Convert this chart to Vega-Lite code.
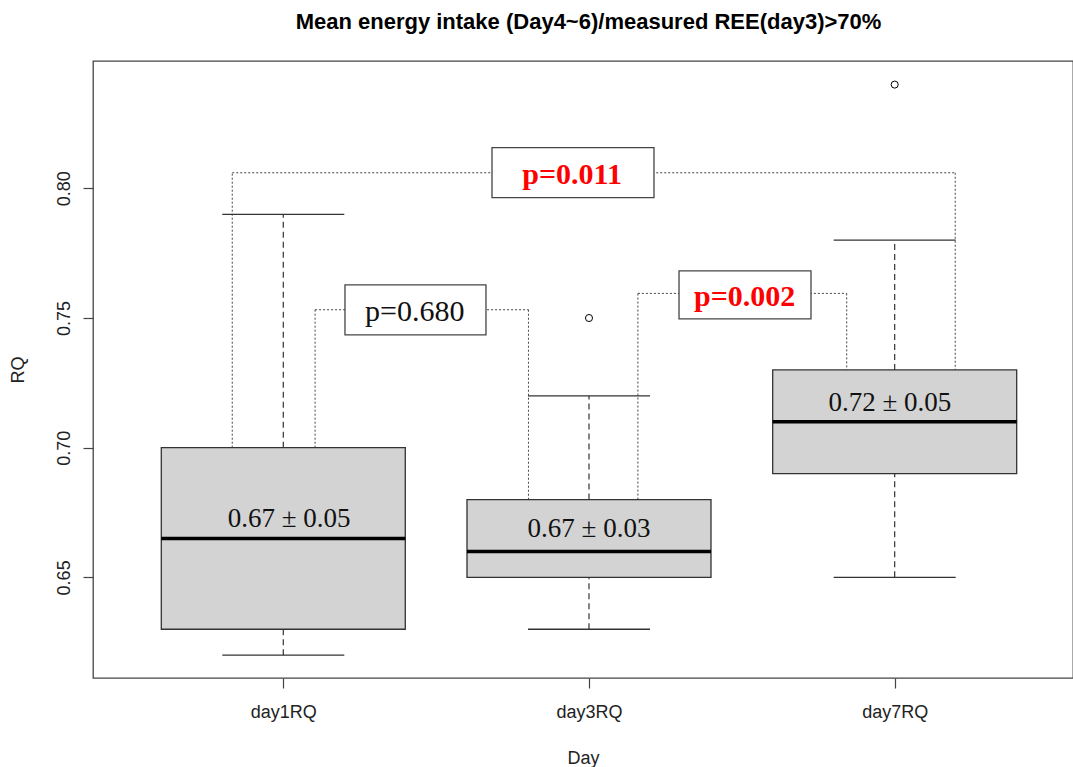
{
  "$schema": "https://vega.github.io/schema/vega-lite/v6.json",
  "width": 980,
  "height": 617,
  "autosize": {"type": "none"},
  "padding": {"left": 93, "top": 61, "right": 0, "bottom": 89},
  "background": "white",
  "title": {
    "text": "Mean energy intake (Day4~6)/measured REE(day3)>70%",
    "font": "Liberation Sans",
    "fontSize": 22,
    "fontWeight": "bold",
    "color": "#000000",
    "anchor": "middle",
    "frame": "group",
    "baseline": "alphabetic",
    "offset": 10,
    "dx": 5.5
  },
  "datasets": {
    "boxes": [
      {"x": 1, "day": "day1RQ", "lower": 0.62, "q1": 0.63, "median": 0.665, "q3": 0.70, "upper": 0.79},
      {"x": 2, "day": "day3RQ", "lower": 0.63, "q1": 0.65, "median": 0.66, "q3": 0.68, "upper": 0.72},
      {"x": 3, "day": "day7RQ", "lower": 0.65, "q1": 0.69, "median": 0.71, "q3": 0.73, "upper": 0.78}
    ],
    "outliers": [
      {"x": 2, "y": 0.75},
      {"x": 3, "y": 0.84}
    ],
    "stats": [
      {"x": 1.019, "y": 0.6695, "text": "0.67 ± 0.05"},
      {"x": 2.0, "y": 0.6656, "text": "0.67 ± 0.03"},
      {"x": 2.984, "y": 0.7141, "text": "0.72 ± 0.05"}
    ],
    "segs": [
      {"x": 0.833, "x2": 0.833, "y": 0.70, "y2": 0.806},
      {"x": 0.833, "x2": 3.198, "y": 0.806, "y2": 0.806},
      {"x": 3.198, "x2": 3.198, "y": 0.806, "y2": 0.73},
      {"x": 1.104, "x2": 1.104, "y": 0.70, "y2": 0.7532},
      {"x": 1.104, "x2": 1.802, "y": 0.7532, "y2": 0.7532},
      {"x": 1.802, "x2": 1.802, "y": 0.7532, "y2": 0.68},
      {"x": 2.16, "x2": 2.16, "y": 0.68, "y2": 0.7595},
      {"x": 2.16, "x2": 2.843, "y": 0.7595, "y2": 0.7595},
      {"x": 2.843, "x2": 2.843, "y": 0.7595, "y2": 0.73}
    ],
    "pvals": [
      {"x": 1.2018, "x2": 1.663, "y": 0.7628, "y2": 0.7435, "tx": 1.430, "ty": 0.7489, "text": "p=0.680", "sig": "no"},
      {"x": 2.2945, "x2": 2.7262, "y": 0.7682, "y2": 0.7497, "tx": 2.509, "ty": 0.7548, "text": "p=0.002", "sig": "yes"},
      {"x": 1.6827, "x2": 2.2126, "y": 0.8157, "y2": 0.7964, "tx": 1.9447, "ty": 0.8018, "text": "p=0.011", "sig": "yes"}
    ]
  },
  "encoding": {
    "x": {
      "field": "x",
      "type": "quantitative",
      "scale": {"domain": [0.3775, 3.5833], "nice": false, "zero": false, "padding": 0},
      "axis": {
        "title": "Day",
        "values": [1, 2, 3],
        "labelExpr": "datum.value == 1 ? 'day1RQ' : datum.value == 2 ? 'day3RQ' : 'day7RQ'",
        "labelPadding": 15,
        "titlePadding": 28
      }
    },
    "y": {
      "field": "y",
      "type": "quantitative",
      "scale": {"domain": [0.6112, 0.8491], "nice": false, "zero": false, "padding": 0},
      "axis": {
        "title": "RQ",
        "values": [0.65, 0.7, 0.75, 0.8],
        "format": ".2f",
        "labelAngle": -90,
        "labelAlign": "center",
        "labelBaseline": "bottom",
        "labelPadding": 10,
        "titlePadding": 28
      }
    }
  },
  "layer": [
    {
      "data": {"name": "segs"},
      "mark": {"type": "rule", "color": "#444444", "strokeWidth": 1, "strokeDash": [2, 2]},
      "encoding": {
        "x2": {"field": "x2"},
        "y2": {"field": "y2"}
      }
    },
    {
      "data": {"name": "boxes"},
      "mark": {"type": "rule", "color": "#333333", "strokeWidth": 1.2, "strokeDash": [6, 4]},
      "encoding": {
        "y": {"field": "q3", "type": "quantitative", "title": "RQ"},
        "y2": {"field": "upper"}
      }
    },
    {
      "data": {"name": "boxes"},
      "mark": {"type": "rule", "color": "#333333", "strokeWidth": 1.2, "strokeDash": [6, 4]},
      "encoding": {
        "y": {"field": "lower", "type": "quantitative", "title": "RQ"},
        "y2": {"field": "q1"}
      }
    },
    {
      "data": {"name": "boxes"},
      "mark": {"type": "tick", "orient": "horizontal", "size": 122, "thickness": 1.3, "color": "#333333", "opacity": 1},
      "encoding": {
        "y": {"field": "upper", "type": "quantitative", "title": "RQ"}
      }
    },
    {
      "data": {"name": "boxes"},
      "mark": {"type": "tick", "orient": "horizontal", "size": 122, "thickness": 1.3, "color": "#333333", "opacity": 1},
      "encoding": {
        "y": {"field": "lower", "type": "quantitative", "title": "RQ"}
      }
    },
    {
      "data": {"name": "boxes"},
      "mark": {"type": "bar", "orient": "vertical", "size": 244, "fill": "#D3D3D3", "stroke": "#333333", "strokeWidth": 1.3},
      "encoding": {
        "y": {"field": "q1", "type": "quantitative", "title": "RQ"},
        "y2": {"field": "q3"}
      }
    },
    {
      "data": {"name": "boxes"},
      "mark": {"type": "tick", "orient": "horizontal", "size": 244, "thickness": 3.5, "color": "#000000", "opacity": 1},
      "encoding": {
        "y": {"field": "median", "type": "quantitative", "title": "RQ"}
      }
    },
    {
      "data": {"name": "outliers"},
      "mark": {"type": "point", "shape": "circle", "size": 50, "filled": false, "stroke": "#000000", "strokeWidth": 1, "opacity": 1}
    },
    {
      "data": {"name": "stats"},
      "mark": {"type": "text", "font": "Liberation Serif", "fontSize": 27, "color": "#111111", "align": "center", "baseline": "alphabetic"},
      "encoding": {
        "text": {"field": "text"}
      }
    },
    {
      "data": {"name": "pvals"},
      "mark": {"type": "rect", "fill": "#FFFFFF", "stroke": "#444444", "strokeWidth": 1.3},
      "encoding": {
        "x2": {"field": "x2"},
        "y2": {"field": "y2"}
      }
    },
    {
      "data": {"name": "pvals"},
      "transform": [{"filter": "datum.sig == 'no'"}],
      "mark": {"type": "text", "font": "Liberation Serif", "fontSize": 30, "color": "#111111", "align": "center", "baseline": "alphabetic"},
      "encoding": {
        "x": {"field": "tx", "type": "quantitative", "title": "Day"},
        "y": {"field": "ty", "type": "quantitative", "title": "RQ"},
        "text": {"field": "text"}
      }
    },
    {
      "data": {"name": "pvals"},
      "transform": [{"filter": "datum.sig == 'yes'"}],
      "mark": {"type": "text", "font": "Liberation Serif", "fontSize": 30, "fontWeight": "bold", "color": "#FF0000", "align": "center", "baseline": "alphabetic"},
      "encoding": {
        "x": {"field": "tx", "type": "quantitative", "title": "Day"},
        "y": {"field": "ty", "type": "quantitative", "title": "RQ"},
        "text": {"field": "text"}
      }
    }
  ],
  "config": {
    "view": {"stroke": "#444444", "strokeWidth": 1.3},
    "axis": {
      "grid": false,
      "domain": false,
      "ticks": true,
      "tickSize": 10,
      "tickColor": "#444444",
      "tickWidth": 1.2,
      "labelFont": "Liberation Sans",
      "labelFontSize": 18,
      "labelColor": "#222222",
      "titleFont": "Liberation Sans",
      "titleFontSize": 18,
      "titleFontWeight": "normal",
      "titleColor": "#222222"
    }
  }
}
